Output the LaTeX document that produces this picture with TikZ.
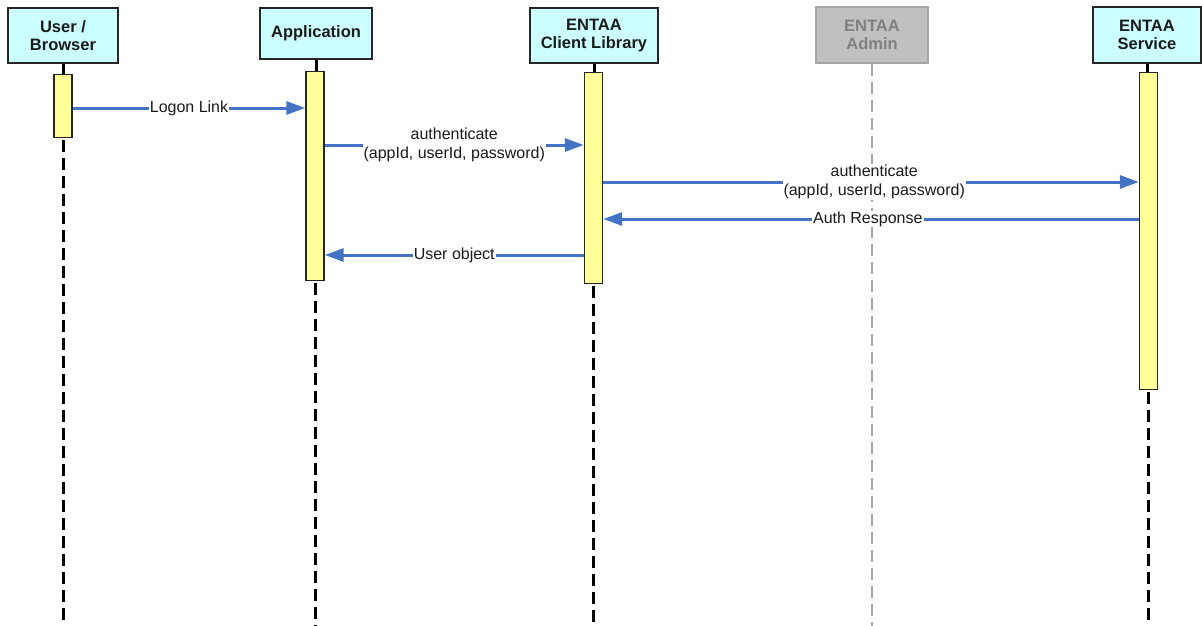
\documentclass[tikz,border=0pt]{standalone}
\usepackage{fontspec}
\setmainfont{Liberation Sans}
\usetikzlibrary{arrows.meta}
\definecolor{boxfill}{HTML}{CCFFFF}
\definecolor{actfill}{HTML}{FFFF99}
\definecolor{msgblue}{HTML}{4472C4}
\definecolor{admfill}{HTML}{C0C0C0}
\definecolor{admline}{HTML}{A6A6A6}
\definecolor{admtext}{HTML}{808080}
\definecolor{txt}{HTML}{1A1A1A}
\tikzset{
  hdr/.style={draw=black!85, line width=1.4pt, fill=boxfill, inner sep=0pt, align=center,
    font=\fontsize{16.5}{18.5}\selectfont\bfseries, text=txt},
  admhdr/.style={hdr, draw=admline, fill=admfill, text=admtext},
  act/.style={draw=black!85, line width=1.4pt, fill=actfill, inner sep=0pt, minimum width=18pt},
  life/.style={line width=3pt, black},
  lifedash/.style={line width=3pt, black, dash pattern=on 12pt off 6pt},
  admlife/.style={line width=2.4pt, admline, dash pattern=on 12pt off 6pt},
  msg/.style={line width=3pt, msgblue, -{Triangle[length=19pt,width=13pt]}},
  lbl/.style={fill=white, inner sep=1pt, align=center, text=txt,
    font=\fontsize{16}{19}\selectfont},
}
\begin{document}
\begin{tikzpicture}[x=1pt,y=-1pt]
\useasboundingbox (0,0) rectangle (1202,626);
% headers
\node[hdr, minimum width=110pt, minimum height=55pt] (hU) at (63,35.5) {User /\\Browser};
\node[hdr, minimum width=112pt, minimum height=51pt] (hA) at (316,33.5) {Application};
\node[hdr, minimum width=128pt, minimum height=55pt] (hC) at (594,35.5) {ENTAA\\Client Library};
\node[admhdr, minimum width=112pt, minimum height=56pt] (hD) at (872,35) {ENTAA\\Admin};
\node[hdr, minimum width=108pt, minimum height=56pt] (hS) at (1147,35) {ENTAA\\Service};
% lifeline ends
\coordinate (eU) at (63,626);
\coordinate (eA) at (315,626);
\coordinate (eC) at (593.5,626);
\coordinate (eD) at (872,626);
\coordinate (eS) at (1148.5,626);
% admin lifeline
\draw[admlife] (hD.south) -- (eD);
% lifelines
\draw[life] (hU.south) -- (hU.south |- 0,74);
\draw[life] (hA.south) -- (hA.south |- 0,71);
\draw[life] (hC.south) -- (hC.south |- 0,72);
\draw[life] (hS.south) -- (hS.south |- 0,72);
% activations
\node[act, minimum height=63pt, anchor=north] (aU) at (63,74) {};
\node[act, minimum height=209pt, anchor=north] (aA) at (315,71) {};
\node[act, minimum height=211pt, anchor=north] (aC) at (593.5,72) {};
\node[act, minimum height=317pt, anchor=north] (aS) at (1148.5,72) {};
\draw[lifedash] ([yshift=-2pt]aU.south) -- (eU);
\draw[lifedash] ([yshift=-2pt]aA.south) -- (eA);
\draw[lifedash] ([yshift=-2pt]aC.south) -- (eC);
\draw[lifedash] ([yshift=-2pt]aS.south) -- (eS);
% messages
\draw[msg] (aU.east |- 0,108) -- node[lbl] {Logon Link} (aA.west |- 0,108);
\draw[msg] (aA.east |- 0,145) -- node[lbl, pos=0.5] {authenticate\\(appId, userId, password)} (aC.west |- 0,145);
\draw[msg] (aC.east |- 0,182) -- node[lbl, pos=0.506] {authenticate\\(appId, userId, password)} (aS.west |- 0,182);
\draw[msg] (aS.west |- 0,219) -- node[lbl, pos=0.506] {Auth Response} (aC.east |- 0,219);
\draw[msg] (aC.west |- 0,255) -- node[lbl] {User object} (aA.east |- 0,255);
\end{tikzpicture}
\end{document}
